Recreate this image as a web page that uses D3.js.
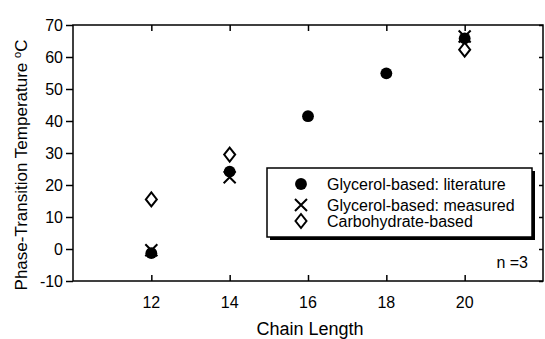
<!DOCTYPE html>
<html>
<head>
<meta charset="utf-8">
<script src="https://cdn.jsdelivr.net/npm/d3@7"></script>
<style>
body { margin: 0; background: #fff; }
text { font-family: "Liberation Sans", Arial, sans-serif; fill: #000; }
</style>
</head>
<body>
<svg id="chart" width="545" height="339"></svg>
<script>
var xTicks = [12, 14, 16, 18, 20];
var yTicks = [-10, 0, 10, 20, 30, 40, 50, 60, 70];

var literature = [
    { x: 12, y: -1.3 }, { x: 14, y: 24.2 }, { x: 16, y: 41.5 },
    { x: 18, y: 54.9 }, { x: 20, y: 65.8 }
];
var measured = [
    { x: 12, y: -0.4 }, { x: 14, y: 22.4 }, { x: 20, y: 66.4 }
];
var carbohydrate = [
    { x: 12, y: 15.5 }, { x: 14, y: 29.5 }, { x: 20, y: 62.3 }
];
var legendLabels = ["Glycerol-based: literature", "Glycerol-based:  measured", "Carbohydrate-based"];

var svg = d3.select("#chart");
var pLeft = 73, pRight = 543, pTop = 25, pBottom = 281;

var x = d3.scaleLinear().domain([10, 22]).range([pLeft, pRight]);
var y = d3.scaleLinear().domain([-10, 70]).range([pBottom, pTop]);

// frame
svg.append("rect")
    .attr("x", pLeft).attr("y", pTop)
    .attr("width", pRight - pLeft).attr("height", pBottom - pTop)
    .attr("fill", "none").attr("stroke", "#000").attr("stroke-width", 1.5);

// y axis ticks and labels (left, outward), plain hyphen for negatives
var yAxis = svg.append("g").attr("transform", "translate(" + pLeft + ",0)")
    .call(d3.axisLeft(y).tickValues(yTicks).tickSize(7).tickPadding(3)
        .tickFormat(function(d) { return String(d); }));
yAxis.select(".domain").remove();
yAxis.selectAll("line").attr("stroke-width", 1.5);
yAxis.selectAll("text").style("font-size", "16px").style("font-family", "Liberation Sans, Arial, sans-serif");

// right ticks inward
svg.append("g").attr("transform", "translate(" + pRight + ",0)")
    .call(d3.axisLeft(y).tickValues(yTicks).tickSize(4).tickFormat(""))
    .call(function(g) { g.select(".domain").remove(); g.selectAll("line").attr("stroke-width", 1.5); });

// bottom x ticks inward with labels
var xAxis = svg.append("g").attr("transform", "translate(0," + pBottom + ")")
    .call(d3.axisTop(x).tickValues(xTicks).tickSize(6).tickFormat(""));
xAxis.select(".domain").remove();
xAxis.selectAll("line").attr("stroke-width", 1.5);

svg.selectAll(".xlab").data(xTicks).enter().append("text")
    .attr("class", "xlab")
    .attr("x", function(d) { return x(d); })
    .attr("y", 308)
    .attr("text-anchor", "middle")
    .style("font-size", "16px")
    .text(function(d) { return d; });

// top x ticks inward
svg.append("g").attr("transform", "translate(0," + pTop + ")")
    .call(d3.axisBottom(x).tickValues(xTicks).tickSize(6).tickFormat(""))
    .call(function(g) { g.select(".domain").remove(); g.selectAll("line").attr("stroke-width", 1.5); });

// axis titles
svg.append("text")
    .attr("x", 310).attr("y", 335)
    .attr("text-anchor", "middle")
    .style("font-size", "18px")
    .text("Chain Length");

var yt = svg.append("text")
    .attr("transform", "translate(27," + ((pTop + pBottom) / 2 + 12) + ") rotate(-90)")
    .attr("text-anchor", "middle")
    .style("font-size", "17px");
yt.append("tspan").text("Phase-Transition Temperature ");
yt.append("tspan").attr("dy", -6).style("font-size", "11px").text("o");
yt.append("tspan").attr("dy", 6).text("C");

// markers
var circleSym = d3.symbol().type(d3.symbolCircle).size(110);
var diamondPath = "M0,-7L5.5,0L0,7L-5.5,0Z";
var crossPath = "M-6,-6L6,6M-6,6L6,-6";

function drawCircle(g, px, py) {
    g.append("path").attr("d", circleSym()).attr("transform", "translate(" + px + "," + py + ")").attr("fill", "#000");
}
function drawCross(g, px, py) {
    g.append("path").attr("d", crossPath).attr("transform", "translate(" + px + "," + py + ")")
        .attr("stroke", "#000").attr("stroke-width", 2).attr("fill", "none");
}
function drawDiamond(g, px, py) {
    g.append("path").attr("d", diamondPath).attr("transform", "translate(" + px + "," + py + ")")
        .attr("fill", "#fff").attr("stroke", "#000").attr("stroke-width", 2);
}

var marks = svg.append("g");
carbohydrate.forEach(function(d) { drawDiamond(marks, x(d.x), y(d.y)); });
literature.forEach(function(d) { drawCircle(marks, x(d.x), y(d.y)); });
measured.forEach(function(d) { drawCross(marks, x(d.x), y(d.y)); });

// legend with shadow
var lx = 267, ly = 168, lw = 265, lh = 69;
svg.append("rect").attr("x", lx + 3).attr("y", ly + 3).attr("width", lw).attr("height", lh).attr("fill", "#000");
svg.append("rect").attr("x", lx).attr("y", ly).attr("width", lw).attr("height", lh)
    .attr("fill", "#fff").attr("stroke", "#000").attr("stroke-width", 1.5);

var legRows = [184, 205, 221];
var legDraw = [drawCircle, drawCross, drawDiamond];
legendLabels.forEach(function(lab, i) {
    legDraw[i](svg, 301, legRows[i]);
    svg.append("text")
        .attr("x", 327).attr("y", legRows[i] + 6)
        .style("font-size", "16px")
        .text(lab);
});

svg.append("text")
    .attr("x", 528).attr("y", 268)
    .attr("text-anchor", "end")
    .style("font-size", "16px")
    .text("n =3");
</script>
</body>
</html>
